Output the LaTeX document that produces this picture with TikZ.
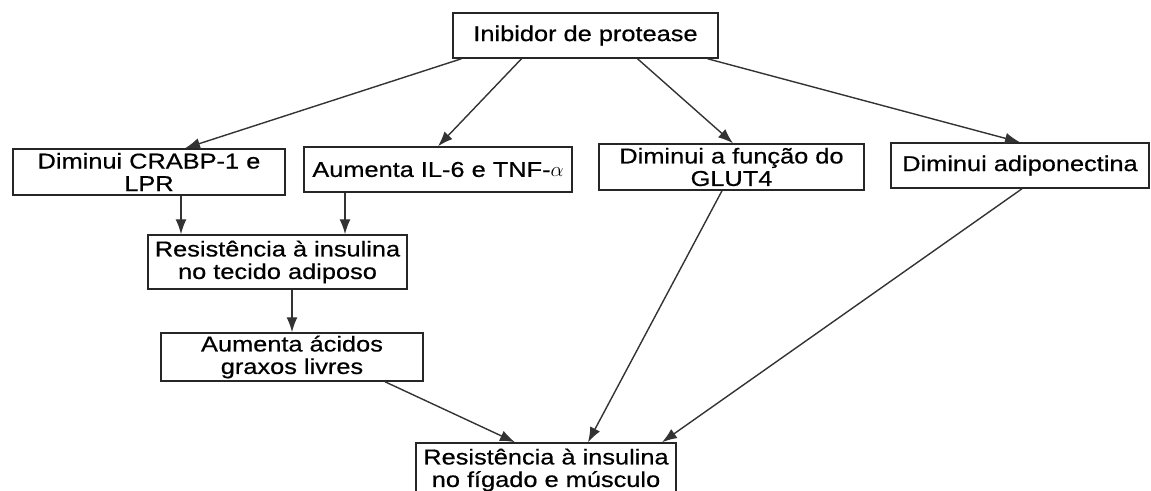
\documentclass[tikz,border=0pt]{standalone}
\usepackage{fontspec}
\setmainfont{Liberation Sans}[FakeStretch=1.18, FakeBold=0.6]
\usepackage{tikz}
\usetikzlibrary{positioning, arrows.meta}

\begin{document}
\begin{tikzpicture}[
			x=1pt, y=-1pt,
			caixa/.style={draw=black!85, line width=1.5pt, fill=white, align=center,
				inner sep=1pt, font=\fontsize{21.5}{22.5}\selectfont},
			seta/.style={draw=black!80, line width=1.4pt, -{Latex[length=15pt,width=11pt]}}
			]
			\useasboundingbox (0,0) rectangle (1151,490);
			\node[caixa, minimum width=265pt, minimum height=45pt] (inibidor) at (585.5,35.5) {Inibidor de protease};
			\node[caixa, minimum width=272pt, minimum height=46pt] (crabp) at (149,172) {Diminui CRABP-1 e\\LPR};
			\node[caixa, minimum width=268pt, minimum height=45pt] (il6) at (438,169.5) {Aumenta IL-6 e TNF-$\alpha$};
			\node[caixa, minimum width=265pt, minimum height=46pt] (glut) at (731.5,167) {Diminui a função do\\GLUT4};
			\node[caixa, minimum width=258pt, minimum height=45pt] (adipo) at (1020,165.5) {Diminui adiponectina};
			\node[caixa, minimum width=259pt, minimum height=54pt] (resadip) at (277.5,262) {Resistência à insulina\\no tecido adiposo};
			\node[caixa, minimum width=262pt, minimum height=48pt] (acidos) at (292,357) {Aumenta ácidos\\graxos livres};
			\node[caixa, minimum width=260pt, minimum height=54pt] (resfig) at (546,470) {Resistência à insulina\\no fígado e músculo};

			\draw[seta] ([xshift=-124pt]inibidor.south) -- ([xshift=36pt]crabp.north);
			\draw[seta] ([xshift=-64pt]inibidor.south) -- (il6.north);
			\draw[seta] ([xshift=52pt]inibidor.south) -- ([xshift=1.5pt]glut.north);
			\draw[seta] ([xshift=122pt]inibidor.south) -- (adipo.north);
			\draw[seta] ([xshift=32pt]crabp.south) -- ([xshift=32pt]crabp.south |- resadip.north);
			\draw[seta] ([xshift=-93pt]il6.south) -- ([xshift=-93pt]il6.south |- resadip.north);
			\draw[seta] (resadip.south -| acidos.north) -- (acidos.north);
			\draw[seta] ([xshift=93pt]acidos.south) -- ([xshift=-31pt]resfig.north);
			\draw[seta] ([xshift=-9.5pt]glut.south) -- ([xshift=42pt]resfig.north);
			\draw[seta] ([xshift=2pt]adipo.south) -- ([xshift=116pt]resfig.north);
		\end{tikzpicture}
\end{document}
